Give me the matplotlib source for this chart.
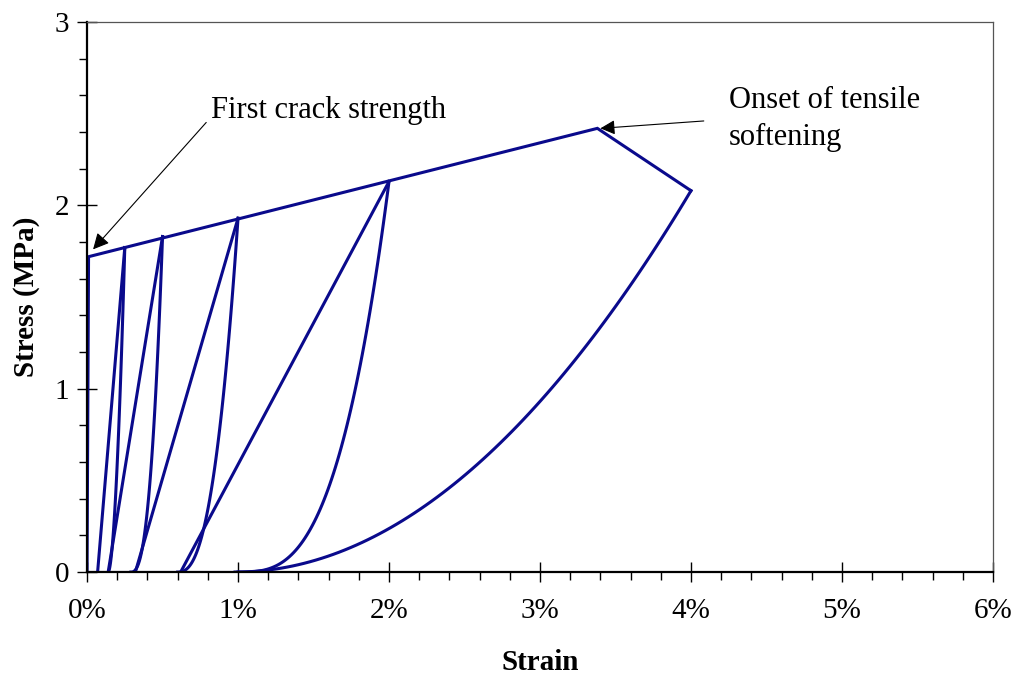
import numpy as np
import matplotlib.pyplot as plt
from matplotlib.ticker import MultipleLocator, FuncFormatter

plt.rcParams['font.family'] = ['Liberation Serif', 'DejaVu Serif']

# envelope: first crack, onset of softening, end of softening (strain, MPa)
env_strain = [0.0, 0.0001, 0.0338, 0.040]
env_stress = [0.0, 1.72, 2.42, 2.08]

# unloading points on the envelope
peak_strain = [0.0025, 0.005, 0.010, 0.020, 0.040]
peak_stress = [1.77, 1.83, 1.93, 2.13, 2.08]
# where each unloading curve reaches zero stress, and its shape exponent
resid_strain = [0.0014, 0.0029, 0.0060, 0.0100, 0.0098]
unload_exp = [1.8, 2.6, 2.5, 3.0, 2.0]
# start of each straight reloading line (goes to the matching peak)
reload_start = [0.0007, 0.0014, 0.0032, 0.0062]

col = '#0a0a8c'
lw = 2.2

fig = plt.figure(figsize=(10.18, 6.77), dpi=100)
ax = fig.add_axes([0.0855, 0.155, 0.8899, 0.8125])

ax.plot(env_strain, env_stress, color=col, lw=lw, solid_joinstyle='miter')

for i in range(len(peak_strain)):
    e = np.linspace(resid_strain[i], peak_strain[i], 80)
    s = peak_stress[i] * ((e - resid_strain[i]) / (peak_strain[i] - resid_strain[i])) ** unload_exp[i]
    ax.plot(e, s, color=col, lw=lw)
    if i < len(reload_start):
        ax.plot([reload_start[i], peak_strain[i]], [0, peak_stress[i]], color=col, lw=lw)

# zero stress line along the bottom
ax.plot([0, 0.0100], [0, 0], color=col, lw=lw)

ax.set_xlim(0, 0.06)
ax.set_ylim(0, 3)
ax.xaxis.set_major_locator(MultipleLocator(0.01))
ax.xaxis.set_minor_locator(MultipleLocator(0.002))
ax.yaxis.set_major_locator(MultipleLocator(1))
ax.yaxis.set_minor_locator(MultipleLocator(0.2))
ax.xaxis.set_major_formatter(FuncFormatter(lambda v, p: '%d%%' % round(v * 100)))

ax.tick_params(which='major', direction='inout', length=14, width=1.0, labelsize=21, pad=6)
ax.tick_params(which='minor', direction='out', length=6, width=1.0)
ax.tick_params(axis='x', which='major', pad=12)
for sp in ['left', 'bottom']:
    ax.spines[sp].set_linewidth(1.6)
for sp in ['top', 'right']:
    ax.spines[sp].set_linewidth(0.9)
    ax.spines[sp].set_color('#555555')

ax.set_xlabel('Strain', fontsize=21, fontweight='bold', labelpad=18)
ax.set_ylabel('Stress (MPa)', fontsize=21, fontweight='bold', labelpad=10)

ax.annotate('First crack strength', xy=(0.0004, 1.76), xytext=(0.0082, 2.52),
            fontsize=22, va='center', ha='left',
            arrowprops=dict(arrowstyle='-|>', color='black', lw=0.8,
                            mutation_scale=24, shrinkA=2, shrinkB=0,
                            relpos=(0, 0.25)))
ax.annotate('Onset of tensile\nsoftening', xy=(0.0340, 2.42), xytext=(0.0425, 2.47),
            fontsize=22, va='center', ha='left', linespacing=1.35,
            arrowprops=dict(arrowstyle='-|>', color='black', lw=0.8,
                            mutation_scale=22, shrinkA=16, shrinkB=0,
                            relpos=(0, 0.5)))

fig.savefig('out.png', dpi=100)
